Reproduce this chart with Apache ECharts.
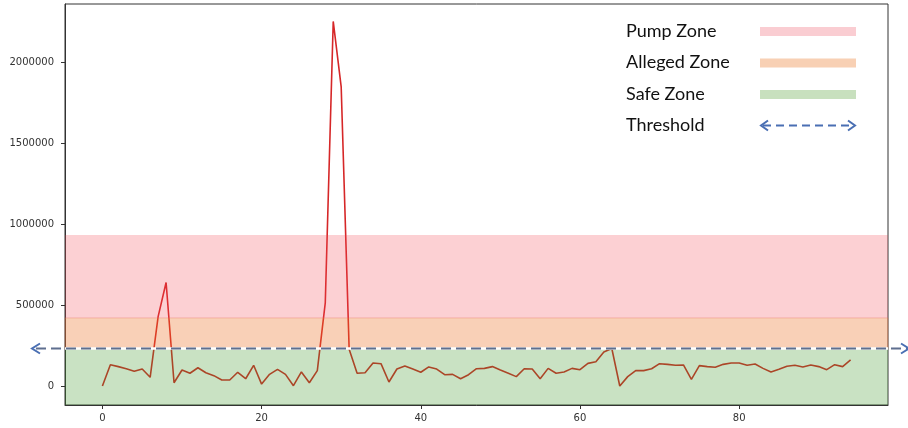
<!DOCTYPE html>
<html><head><meta charset="utf-8">
<script src="https://cdn.jsdelivr.net/npm/echarts@6/dist/echarts.min.js"></script>
<style>html,body{margin:0;padding:0;background:#fff}#c{width:908px;height:428px}</style>
</head><body><div id="c"></div><script>
const values = [0,132000,120000,107000,91000,105000,54000,429000,640000,20000,
99000,79000,113000,82000,64000,37000,37000,85000,45000,128000,
12000,72000,103000,72000,2000,87000,20000,95000,514000,2255000,
1850000,228000,79000,82000,142000,138000,25000,105000,124000,105000,
85000,118000,105000,70000,72000,45000,70000,107000,109000,120000,
99000,79000,58000,107000,105000,45000,109000,79000,87000,109000,
101000,140000,150000,210000,232000,0,58000,95000,95000,107000,
138000,134000,128000,130000,41000,126000,120000,116000,134000,142000,
142000,128000,136000,109000,87000,103000,122000,128000,118000,130000,
120000,101000,132000,120000,161000];
const xTicks = [0,20,40,60,80];
const yTicks = [0,500000,1000000,1500000,2000000];
const threshold = 232000;
const allegedTop = 421000;
const pumpTop = 934000;
const legendLabels = ['Pump Zone','Alleged Zone','Safe Zone','Threshold'];
const xMin = -4.7, xMax = 98.7, yMin = -117500, yMax = 2362800;

const cPink = 'rgba(244,67,80,0.25)';
const cOrange = 'rgba(235,110,30,0.32)';
const cGreen = 'rgba(60,150,40,0.28)';

const chart = echarts.init(document.getElementById('c'), null, {renderer:'canvas'});
const axisCommon = {
  splitLine:{show:false},
  axisLine:{show:true,onZero:false,lineStyle:{color:'#333',width:1}},
};
const lbl = {fontFamily:'DejaVu Sans',fontSize:10,color:'#333',formatter:v=>String(v)};
chart.setOption({
  animation:false,
  grid:{left:65,right:20,top:4,bottom:23,show:true,borderColor:'#333',borderWidth:1,backgroundColor:'transparent'},
  xAxis:Object.assign({type:'value',min:xMin,max:xMax,
    axisTick:{show:true,customValues:xTicks,length:4,lineStyle:{color:'#333'}},
    axisLabel:Object.assign({customValues:xTicks,margin:8},lbl)},axisCommon),
  yAxis:Object.assign({type:'value',min:yMin,max:yMax,
    axisTick:{show:true,customValues:yTicks,length:4,lineStyle:{color:'#333'}},
    axisLabel:Object.assign({customValues:yTicks,margin:11},lbl)},axisCommon),
  series:[
    {type:'line',data:values.map((v,i)=>[i,v]),symbol:'none',z:1,zlevel:0,
     lineStyle:{color:'#d62728',width:1.6}},
    {type:'line',data:values.map((v,i)=>[i,v]),symbol:'none',z:10,silent:true,
     lineStyle:{opacity:0},
     markArea:{silent:true,z:10,data:[
       [{xAxis:xMin,yAxis:yMin,itemStyle:{color:cGreen}},{xAxis:xMax,yAxis:threshold}],
       [{xAxis:xMin,yAxis:threshold,itemStyle:{color:cOrange,borderColor:'rgba(230,120,90,0.35)',borderWidth:1}},{xAxis:xMax,yAxis:allegedTop}],
       [{xAxis:xMin,yAxis:allegedTop,itemStyle:{color:cPink}},{xAxis:xMax,yAxis:pumpTop}]
     ]}}
  ]
});

const py = chart.convertToPixel({yAxisIndex:0}, threshold);
const gx0 = chart.convertToPixel({xAxisIndex:0}, xMin);
const gx1 = chart.convertToPixel({xAxisIndex:0}, xMax);
const blue = '#4a6fb3';
const dashC = '#5f6f8f';
const graphics = [
  {type:'line',shape:{x1:gx0,y1:py,x2:gx1,y2:py},style:{stroke:'#fff',lineWidth:2.5},z:100},
  {type:'line',shape:{x1:36,y1:py,x2:912,y2:py},style:{stroke:dashC,lineWidth:2,lineDash:[10,5]},z:101},
  {type:'polyline',shape:{points:[[40,py-5],[32,py],[40,py+5]]},style:{stroke:blue,lineWidth:2,fill:null},z:101},
  {type:'polyline',shape:{points:[[901,py-5],[909,py],[901,py+5]]},style:{stroke:blue,lineWidth:2,fill:null},z:101}
];
const legY = [31.5,63,94.5,125.5];
const legC = ['rgb(250,205,210)','rgb(248,208,180)','rgb(200,224,190)'];
legendLabels.forEach((t,i)=>{
  graphics.push({type:'text',left:626,top:legY[i]-9.5,z:120,style:{text:t,fontFamily:'Lato',fontSize:18,fill:'#111'}});
  if(i<3){
    graphics.push({type:'rect',shape:{x:760,y:legY[i]-4.5,width:96,height:9},style:{fill:legC[i]},z:120});
  } else {
    const y=legY[i];
    graphics.push({type:'line',shape:{x1:763,y1:y,x2:853,y2:y},style:{stroke:blue,lineWidth:2,lineDash:[8,5]},z:120});
    graphics.push({type:'polyline',shape:{points:[[768,y-5],[761,y],[768,y+5]]},style:{stroke:blue,lineWidth:2,fill:null},z:120});
    graphics.push({type:'polyline',shape:{points:[[848,y-5],[855,y],[848,y+5]]},style:{stroke:blue,lineWidth:2,fill:null},z:120});
  }
});
chart.setOption({graphic:graphics});
</script></body></html>
